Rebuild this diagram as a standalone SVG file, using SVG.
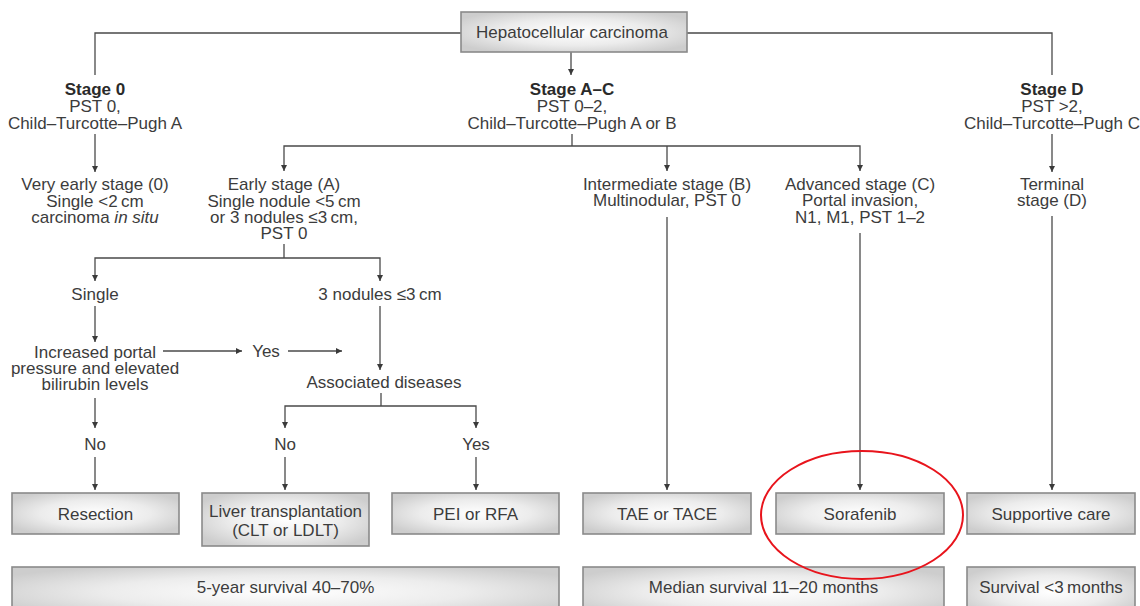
<svg xmlns="http://www.w3.org/2000/svg" width="1140" height="606" viewBox="0 0 1140 606">
<defs>
<radialGradient id="g" cx="0.5" cy="0.5" r="0.6">
<stop offset="0" stop-color="#ffffff"/>
<stop offset="0.55" stop-color="#ececec"/>
<stop offset="1" stop-color="#cdcdcd"/>
</radialGradient>
<marker id="a" viewBox="0 0 10 10" refX="10" refY="5" markerWidth="6" markerHeight="8" markerUnits="userSpaceOnUse" orient="auto">
<path d="M0,0 L10,5 L0,10 z" fill="#3a3a3a"/>
</marker>
<style>
text{font-family:"Liberation Sans",Arial,sans-serif;font-size:17px;fill:#3c3c3c;text-anchor:middle}
.b{font-weight:bold;fill:#2a2a2a}
.box{fill:url(#g);stroke:#8a8a8a;stroke-width:1.6}
.l{fill:none;stroke:#4a4a4a;stroke-width:1.3}
.ar{marker-end:url(#a)}
</style>
</defs>
<rect width="1140" height="606" fill="#ffffff"/>

<g id="connectors">
<path class="l" d="M461,33 H95 V75"/>
<path class="l" d="M687,33 H1052 V75"/>
<path class="l ar" d="M571,52 V75"/>
<path class="l ar" d="M95,134 V172"/>
<path class="l" d="M572,134 V146"/>
<path class="l ar" d="M572,146 H284 V171"/>
<path class="l ar" d="M572,146 H860 V171"/>
<path class="l ar" d="M667,146 V171"/>
<path class="l ar" d="M1052,134 V172"/>
<path class="l" d="M284,244 V258"/>
<path class="l ar" d="M284,258 H95 V281"/>
<path class="l ar" d="M284,258 H380 V281"/>
<path class="l ar" d="M95,306 V342"/>
<path class="l ar" d="M163,351 H242"/>
<path class="l ar" d="M288,351 H342"/>
<path class="l ar" d="M380,306 V370"/>
<path class="l" d="M381,393 V406"/>
<path class="l ar" d="M381,406 H285 V428"/>
<path class="l ar" d="M381,406 H476 V428"/>
<path class="l ar" d="M95,398 V428"/>
<path class="l ar" d="M95,457 V490"/>
<path class="l ar" d="M285,457 V490"/>
<path class="l ar" d="M476,457 V490"/>
<path class="l ar" d="M667,217 V490"/>
<path class="l ar" d="M860,233 V490"/>
<path class="l ar" d="M1052,216 V490"/>
</g>

<g id="hcc">
<rect class="box" x="461" y="12" width="226" height="40"/>
<text x="572" y="38">Hepatocellular carcinoma</text>
</g>

<g id="stage0">
<text class="b" x="95" y="95">Stage 0</text>
<text x="95" y="112">PST 0,</text>
<text x="95" y="129">Child–Turcotte–Pugh A</text>
</g>
<g id="stageAC">
<text class="b" x="572" y="95">Stage A–C</text>
<text x="572" y="112">PST 0–2,</text>
<text x="572" y="129">Child–Turcotte–Pugh A or B</text>
</g>
<g id="stageD">
<text class="b" x="1052" y="95">Stage D</text>
<text x="1052" y="112">PST &gt;2,</text>
<text x="1052" y="129">Child–Turcotte–Pugh C</text>
</g>

<g id="veryEarly">
<text x="95" y="190">Very early stage (0)</text>
<text x="95" y="207">Single &lt;2&#8201;cm</text>
<text x="95" y="223">carcinoma <tspan font-style="italic">in situ</tspan></text>
</g>
<g id="early">
<text x="284" y="190">Early stage (A)</text>
<text x="284" y="207">Single nodule &lt;5&#8201;cm</text>
<text x="284" y="223">or 3 nodules ≤3&#8201;cm,</text>
<text x="284" y="239">PST 0</text>
</g>
<g id="intermediate">
<text x="667" y="190">Intermediate stage (B)</text>
<text x="667" y="206">Multinodular, PST 0</text>
</g>
<g id="advanced">
<text x="860" y="190">Advanced stage (C)</text>
<text x="860" y="206">Portal invasion,</text>
<text x="860" y="223">N1, M1, PST 1–2</text>
</g>
<g id="terminal">
<text x="1052" y="190">Terminal</text>
<text x="1052" y="206">stage (D)</text>
</g>

<g id="single"><text x="95" y="300">Single</text></g>
<g id="threeNodules"><text x="380" y="300">3 nodules ≤3&#8201;cm</text></g>
<g id="portal">
<text x="95" y="358">Increased portal</text>
<text x="95" y="374">pressure and elevated</text>
<text x="95" y="390">bilirubin levels</text>
</g>
<g id="yes1"><text x="266" y="357">Yes</text></g>
<g id="assoc"><text x="384" y="388">Associated diseases</text></g>
<g id="no1"><text x="95" y="450">No</text></g>
<g id="no2"><text x="285" y="450">No</text></g>
<g id="yes2"><text x="476" y="450">Yes</text></g>

<g id="resection">
<rect class="box" x="12" y="493" width="167" height="41"/>
<text x="95.5" y="520">Resection</text>
</g>
<g id="liver">
<rect class="box" x="202" y="493" width="167" height="53"/>
<text x="285.5" y="517">Liver transplantation</text>
<text x="285.5" y="536">(CLT or LDLT)</text>
</g>
<g id="pei">
<rect class="box" x="392" y="493" width="167" height="41"/>
<text x="475.5" y="520">PEI or RFA</text>
</g>
<g id="tace">
<rect class="box" x="583" y="493" width="168" height="41"/>
<text x="667" y="520">TAE or TACE</text>
</g>
<g id="sorafenib">
<rect class="box" x="776" y="493" width="168" height="41"/>
<text x="860" y="520">Sorafenib</text>
</g>
<g id="supportive">
<rect class="box" x="967" y="493" width="168" height="41"/>
<text x="1051" y="520">Supportive care</text>
</g>

<g id="surv1">
<rect class="box" x="12" y="567" width="547" height="50"/>
<text x="285.5" y="593">5-year survival 40–70%</text>
</g>
<g id="surv2">
<rect class="box" x="583" y="567" width="361" height="50"/>
<text x="763.5" y="593">Median survival 11–20 months</text>
</g>
<g id="surv3">
<rect class="box" x="967" y="567" width="168" height="50"/>
<text x="1051" y="593">Survival &lt;3&#8201;months</text>
</g>

<g id="highlight">
<ellipse cx="862" cy="515" rx="101" ry="64" fill="none" stroke="#e8141c" stroke-width="2"/>
</g>
</svg>
